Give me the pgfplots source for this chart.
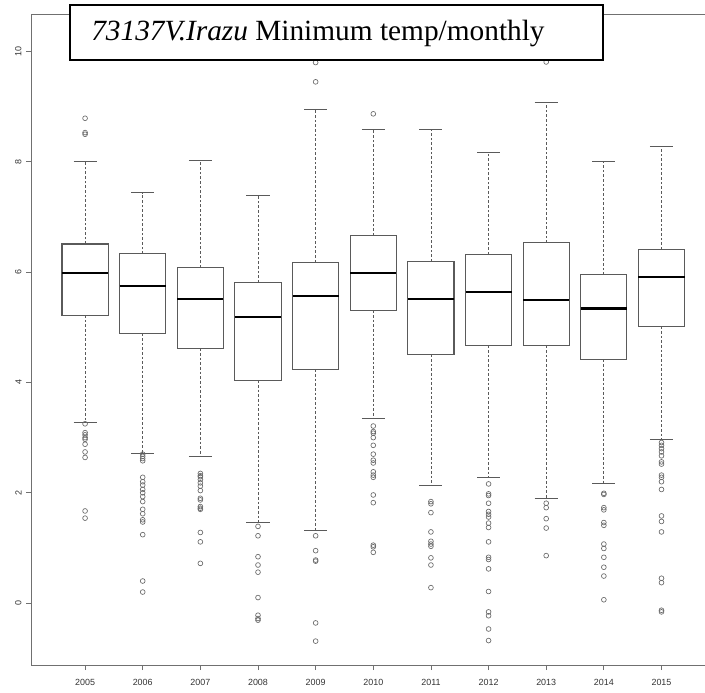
\documentclass[border=0pt]{standalone}
\usepackage{fontspec}
\usepackage{pgfplots}
\pgfplotsset{compat=1.18}
\usepgfplotslibrary{statistics}
\newfontfamily\tickfont{Liberation Sans}
\newfontfamily\titlefont{Liberation Serif}
\definecolor{boxgray}{HTML}{5A5A5A}
\definecolor{outgray}{HTML}{6A6A6A}
\definecolor{axgray}{HTML}{707070}
\pgfplotsset{
  bpstyle/.style={boxgray, line width=0.8pt, mark=o, mark size=1.8pt,
    mark options={solid, draw=outgray, line width=0.5pt}},
}
\begin{document}
\begin{tikzpicture}
\begin{axis}[
  scale only axis, width=505.1pt, height=488.25pt,
  xmin=-0.93, xmax=10.755, ymin=-1.124, ymax=10.68,
  axis x line=box, axis y line=left,
  axis line style={-, draw=axgray, line width=0.6pt},
  xtick={0,1,2,3,4,5,6,7,8,9,10},
  xticklabels={2005,2006,2007,2008,2009,2010,2011,2012,2013,2014,2015},
  ytick={0,2,4,6,8,10},
  xtick pos=bottom, ytick pos=left,
  tick align=outside, major tick length=3.75pt,
  tick style={draw=axgray, line width=0.6pt},
  /pgf/number format/assume math mode=true,
  ticklabel style={font=\tickfont\fontsize{6.7}{8}\selectfont, text=black!80},
  yticklabel style={rotate=90, anchor=south, inner sep=0pt},
  xticklabel style={inner sep=0pt, yshift=-7pt},
  yticklabel shift=3.5pt,
  boxplot/draw direction=y,
  boxplot/every median/.style={black, line width=1.6pt},
  boxplot/box extend=0.8,
  boxplot/whisker extend=0.4,
  boxplot/draw/lower whisker/.code={%
    \draw[boxgray, line width=0.6pt, dash pattern=on 2pt off 1.5pt]
      (boxplot box cs:\pgfplotsboxplotvalue{lower quartile},0.5) --
      (boxplot box cs:\pgfplotsboxplotvalue{lower whisker},0.5);
    \draw[boxgray, line width=0.8pt]
      (boxplot whisker cs:\pgfplotsboxplotvalue{lower whisker},0) --
      (boxplot whisker cs:\pgfplotsboxplotvalue{lower whisker},1);
  },
  boxplot/draw/upper whisker/.code={%
    \draw[boxgray, line width=0.6pt, dash pattern=on 2pt off 1.5pt]
      (boxplot box cs:\pgfplotsboxplotvalue{upper quartile},0.5) --
      (boxplot box cs:\pgfplotsboxplotvalue{upper whisker},0.5);
    \draw[boxgray, line width=0.8pt]
      (boxplot whisker cs:\pgfplotsboxplotvalue{upper whisker},0) --
      (boxplot whisker cs:\pgfplotsboxplotvalue{upper whisker},1);
  },
]
% 2005
\addplot[bpstyle, boxplot prepared={draw position=0, lower whisker=3.28, lower quartile=5.22, median=5.98, upper quartile=6.51, upper whisker=8.00}]
  table[row sep=\\, y index=0] {y\\ 8.79\\ 8.53\\ 8.50\\ 3.25\\ 3.09\\ 3.05\\ 3.00\\ 2.97\\ 2.88\\ 2.74\\ 2.64\\ 1.67\\ 1.54\\};
% 2006
\addplot[bpstyle, boxplot prepared={draw position=1, lower whisker=2.71, lower quartile=4.89, median=5.75, upper quartile=6.33, upper whisker=7.44}]
  table[row sep=\\, y index=0] {y\\ 2.70\\ 2.66\\ 2.62\\ 2.58\\ 2.28\\ 2.20\\ 2.14\\ 2.06\\ 2.00\\ 1.93\\ 1.84\\ 1.70\\ 1.62\\ 1.51\\ 1.47\\ 1.24\\ 0.40\\ 0.20\\};
% 2007
\addplot[bpstyle, boxplot prepared={draw position=2, lower whisker=2.66, lower quartile=4.62, median=5.51, upper quartile=6.08, upper whisker=8.03}]
  table[row sep=\\, y index=0] {y\\ 2.35\\ 2.31\\ 2.29\\ 2.24\\ 2.18\\ 2.12\\ 2.04\\ 1.90\\ 1.87\\ 1.75\\ 1.72\\ 1.70\\ 1.28\\ 1.11\\ 0.72\\};
% 2008
\addplot[bpstyle, boxplot prepared={draw position=3, lower whisker=1.46, lower quartile=4.04, median=5.19, upper quartile=5.81, upper whisker=7.39}]
  table[row sep=\\, y index=0] {y\\ 1.39\\ 1.22\\ 0.84\\ 0.69\\ 0.56\\ 0.10\\ -0.22\\ -0.28\\ -0.31\\};
% 2009
\addplot[bpstyle, boxplot prepared={draw position=4, lower whisker=1.32, lower quartile=4.24, median=5.56, upper quartile=6.18, upper whisker=8.95}]
  table[row sep=\\, y index=0] {y\\ 9.80\\ 9.45\\ 1.22\\ 0.95\\ 0.78\\ 0.76\\ -0.36\\ -0.69\\};
% 2010
\addplot[bpstyle, boxplot prepared={draw position=5, lower whisker=3.34, lower quartile=5.31, median=5.98, upper quartile=6.66, upper whisker=8.59}]
  table[row sep=\\, y index=0] {y\\ 8.87\\ 3.21\\ 3.11\\ 3.08\\ 3.00\\ 2.86\\ 2.70\\ 2.59\\ 2.54\\ 2.38\\ 2.32\\ 2.28\\ 1.96\\ 1.82\\ 1.05\\ 1.02\\ 0.92\\};
% 2011
\addplot[bpstyle, boxplot prepared={draw position=6, lower whisker=2.14, lower quartile=4.51, median=5.51, upper quartile=6.19, upper whisker=8.58}]
  table[row sep=\\, y index=0] {y\\ 1.84\\ 1.80\\ 1.64\\ 1.29\\ 1.12\\ 1.07\\ 1.03\\ 0.82\\ 0.69\\ 0.28\\};
% 2012
\addplot[bpstyle, boxplot prepared={draw position=7, lower whisker=2.28, lower quartile=4.67, median=5.64, upper quartile=6.32, upper whisker=8.17}]
  table[row sep=\\, y index=0] {y\\ 2.16\\ 1.98\\ 1.95\\ 1.81\\ 1.66\\ 1.61\\ 1.56\\ 1.45\\ 1.37\\ 1.11\\ 0.83\\ 0.79\\ 0.62\\ 0.21\\ -0.16\\ -0.23\\ -0.47\\ -0.68\\};
% 2013
\addplot[bpstyle, boxplot prepared={draw position=8, lower whisker=1.90, lower quartile=4.67, median=5.49, upper quartile=6.53, upper whisker=9.08}]
  table[row sep=\\, y index=0] {y\\ 9.81\\ 1.81\\ 1.73\\ 1.53\\ 1.36\\ 0.86\\};
% 2014
\addplot[bpstyle, boxplot prepared={draw position=9, lower whisker=2.17, lower quartile=4.42, median=5.34, upper quartile=5.95, upper whisker=8.01}]
  table[row sep=\\, y index=0] {y\\ 1.99\\ 1.97\\ 1.73\\ 1.69\\ 1.46\\ 1.41\\ 1.07\\ 0.99\\ 0.83\\ 0.65\\ 0.49\\ 0.06\\};
% 2015
\addplot[bpstyle, boxplot prepared={draw position=10, lower whisker=2.96, lower quartile=5.02, median=5.91, upper quartile=6.41, upper whisker=8.27}]
  table[row sep=\\, y index=0] {y\\ 2.91\\ 2.86\\ 2.80\\ 2.74\\ 2.67\\ 2.56\\ 2.52\\ 2.32\\ 2.28\\ 2.20\\ 2.06\\ 1.58\\ 1.48\\ 1.29\\ 0.45\\ 0.37\\ -0.13\\ -0.16\\};
\coordinate (ll) at (rel axis cs:0,0);
\coordinate (ur) at (rel axis cs:1,1);
\coordinate (tb) at (rel axis cs:0.0557,1);
\end{axis}
\node[draw=black, line width=1.5pt, fill=white, anchor=north west,
  minimum width=399.75pt, minimum height=41.25pt, inner sep=0pt]
  (title) at ([yshift=7.5pt]tb) {};
\node[anchor=west, inner sep=0pt, font=\titlefont\fontsize{22}{26}\selectfont]
  at ([xshift=16.5pt, yshift=-1pt]title.west) {\textit{73137V.Irazu} Minimum temp/monthly};
\pgfresetboundingbox
\path ([xshift=-23.6pt, yshift=-20.25pt]ll) rectangle ([yshift=10.5pt]ur);
\end{tikzpicture}
\end{document}
